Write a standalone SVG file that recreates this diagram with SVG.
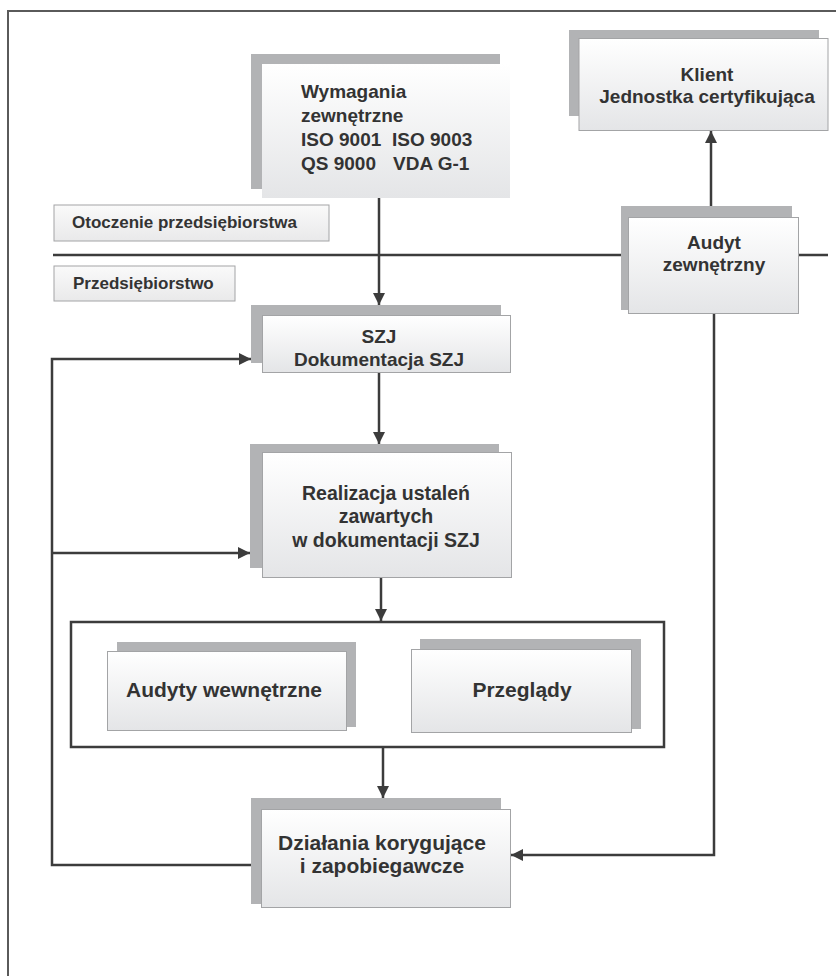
<svg xmlns="http://www.w3.org/2000/svg" width="836" height="976" viewBox="0 0 836 976">
  <defs>
    <linearGradient id="boxFill" x1="0" y1="0" x2="0" y2="1">
      <stop offset="0" stop-color="#ffffff"/>
      <stop offset="1" stop-color="#e4e5e7"/>
    </linearGradient>
    <linearGradient id="labelFill" x1="0" y1="0" x2="0" y2="1">
      <stop offset="0" stop-color="#fafafa"/>
      <stop offset="1" stop-color="#e9e9ea"/>
    </linearGradient>
    <marker id="arrow" markerUnits="userSpaceOnUse" markerWidth="12" markerHeight="12" viewBox="0 0 12 12" refX="12" refY="6" orient="auto">
      <path d="M0,0 L12,6 L0,12 Z" fill="#3c3c3c"/>
    </marker>
  </defs>
  <style>
    .frame { fill: none; stroke: #5a5a5a; stroke-width: 2; }
    .shadow { fill: #b2b3b5; }
    .box { fill: url(#boxFill); stroke: #a3a4a6; stroke-width: 1; }
    .box-plain { fill: url(#boxFill); }
    .label { fill: url(#labelFill); stroke: #a3a4a6; stroke-width: 1; }
    .conn { fill: none; stroke: #3c3c3c; stroke-width: 2.5; }
    .group { fill: none; stroke: #3c3c3c; stroke-width: 2.5; }
    text { font-family: "Liberation Sans", Arial, sans-serif; font-weight: bold; fill: #333333; }
    .t { font-size: 19px; }
    .tm { font-size: 19.5px; }
    .tl { font-size: 21px; }
    .c { text-anchor: middle; }
    .lbl { font-size: 17px; }
  </style>

  <!-- page frame: top and left edges only -->
  <path class="frame" d="M8,976 L8,11 L836,11"/>

  <!-- boundary between surroundings and enterprise -->
  <line class="conn" x1="53" y1="255" x2="828" y2="255"/>

  <!-- grouping frame around internal audits and reviews -->
  <rect id="review-group" class="group" x="71" y="622" width="593" height="125"/>

  <g id="connectors">
    <line class="conn" x1="379" y1="198" x2="379" y2="305" marker-end="url(#arrow)"/>
    <line class="conn" x1="379" y1="373" x2="379" y2="444" marker-end="url(#arrow)"/>
    <line class="conn" x1="381" y1="578" x2="381" y2="621" marker-end="url(#arrow)"/>
    <line class="conn" x1="383" y1="748" x2="383" y2="798" marker-end="url(#arrow)"/>
    <line class="conn" x1="711" y1="206" x2="711" y2="131" marker-end="url(#arrow)"/>
    <polyline class="conn" points="714,314 714,855 511,855" marker-end="url(#arrow)"/>
    <polyline class="conn" points="251,865 52,865 52,359 251,359" marker-end="url(#arrow)"/>
    <line class="conn" x1="52" y1="553" x2="250" y2="553" marker-end="url(#arrow)"/>
  </g>

  <g id="label-otoczenie">
    <rect class="label" x="54" y="205" width="275" height="36"/>
    <text class="lbl" x="72" y="228">Otoczenie przedsiębiorstwa</text>
  </g>

  <g id="label-przedsiebiorstwo">
    <rect class="label" x="54" y="266" width="181" height="35"/>
    <text class="lbl" x="73" y="289">Przedsiębiorstwo</text>
  </g>

  <g id="node-wymagania">
    <rect class="shadow" x="251" y="54" width="249" height="135"/>
    <rect class="box-plain" x="262" y="64" width="248" height="134"/>
    <text class="t" x="301" y="98">Wymagania</text>
    <text class="t" x="301" y="122">zewnętrzne</text>
    <text class="t" y="146"><tspan x="301">ISO 9001</tspan><tspan x="392">ISO 9003</tspan></text>
    <text class="t" y="170"><tspan x="301">QS 9000</tspan><tspan x="393">VDA G-1</tspan></text>
  </g>

  <g id="node-klient">
    <rect class="shadow" x="569" y="30" width="250" height="86"/>
    <rect class="box" x="579" y="38.5" width="249" height="92"/>
    <text class="t c" x="707" y="81">Klient</text>
    <text class="t c" x="707" y="103">Jednostka certyfikująca</text>
  </g>

  <g id="node-audyt-zewnetrzny">
    <rect class="shadow" x="621" y="206" width="171" height="104"/>
    <rect class="box" x="628.5" y="217.5" width="170" height="96"/>
    <text class="t c" x="714" y="249">Audyt</text>
    <text class="t c" x="714" y="271">zewnętrzny</text>
  </g>

  <g id="node-szj">
    <rect class="shadow" x="251" y="305" width="250" height="58"/>
    <rect class="box" x="262.5" y="315.5" width="248" height="57"/>
    <text class="t c" x="379" y="343">SZJ</text>
    <text class="t c" x="379" y="366">Dokumentacja SZJ</text>
  </g>

  <g id="node-realizacja">
    <rect class="shadow" x="250" y="444" width="249" height="124"/>
    <rect class="box" x="262.5" y="452.5" width="249" height="125"/>
    <text class="tm c" x="386" y="500">Realizacja ustaleń</text>
    <text class="tm c" x="386" y="523">zawartych</text>
    <text class="tm c" x="386" y="547">w dokumentacji SZJ</text>
  </g>

  <g id="node-audyty-wewnetrzne">
    <rect class="shadow" x="117" y="642" width="239" height="85"/>
    <rect class="box" x="107.5" y="651.5" width="239" height="79"/>
    <text class="tl c" x="224" y="697">Audyty wewnętrzne</text>
  </g>

  <g id="node-przeglady">
    <rect class="shadow" x="420" y="639" width="221" height="90"/>
    <rect class="box" x="411.5" y="649.5" width="220" height="83"/>
    <text class="tl c" x="522" y="697">Przeglądy</text>
  </g>

  <g id="node-dzialania">
    <rect class="shadow" x="251" y="798" width="250" height="106"/>
    <rect class="box" x="261.5" y="809.5" width="249" height="98"/>
    <text class="tl c" x="382" y="850">Działania korygujące</text>
    <text class="tl c" x="382" y="873">i zapobiegawcze</text>
  </g>
</svg>
